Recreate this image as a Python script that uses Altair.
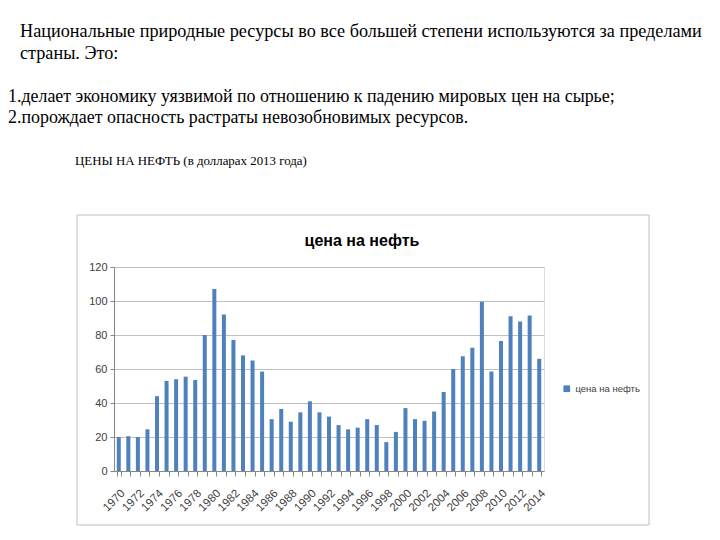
import altair as alt
import pandas as pd

years = list(range(1970, 2015))
prices = [20, 20.5, 20, 24.5, 44, 53, 54, 55.5, 53.5, 80,
          107, 92, 77, 68, 65, 58.5, 30.5, 36.5, 29, 34.5,
          41, 34.5, 32, 27, 24.5, 25.5, 30.5, 27, 17, 23,
          37, 30.5, 29.5, 35, 46.5, 60, 67.5, 72.5, 99.5, 58.5,
          76.5, 91, 88, 91.5, 66]
series_name = "цена на нефть"
y_ticks = [0, 20, 40, 60, 80, 100, 120]

intro_lines = [
    "Национальные природные ресурсы во все большей степени используются за пределами",
    "страны. Это:",
]
list_lines = [
    "1.делает экономику уязвимой по отношению к падению мировых цен на сырье;",
    "2.порождает опасность растраты невозобновимых ресурсов.",
]
subtitle = "ЦЕНЫ НА НЕФТЬ (в долларах 2013 года)"
chart_title = "цена на нефть"

df = pd.DataFrame({"year": years, "price": prices, "series": [series_name] * len(years)})
one = pd.DataFrame({"k": [0]})

W, H = 430, 204
X0, Y0 = 114, 267  # plot origin on page

bars = alt.Chart(df).mark_bar(color="#4F81BD").encode(
    x=alt.X("year:O", title=None,
            scale=alt.Scale(paddingInner=0.58, paddingOuter=0.29),
            axis=alt.Axis(labelAngle=-45, labelExpr="datum.value % 2 == 0 ? datum.label : ''",
                          tickBand="extent", domainColor="#868686", tickColor="#868686",
                          tickSize=5, labelFont="Liberation Sans", labelFontSize=11.5,
                          labelColor="#404040", labelPadding=11, grid=False)),
    y=alt.Y("price:Q", title=None,
            scale=alt.Scale(domain=[0, 120], nice=False),
            axis=alt.Axis(values=y_ticks, domainColor="#868686", tickColor="#868686",
                          tickSize=4, labelFont="Liberation Sans", labelFontSize=11,
                          labelColor="#404040", gridColor="#c0c0c0", labelPadding=3)),
    color=alt.Color("series:N", scale=alt.Scale(range=["#4F81BD"]),
                    legend=alt.Legend(title=None, orient="none", legendX=448, legendY=117,
                                      symbolType="square", symbolSize=45,
                                      symbolStrokeWidth=0,
                                      labelFont="Liberation Sans", labelFontSize=9.5,
                                      labelColor="#404040")),
)

def txt(text, px, py, size, font="Liberation Serif", weight="normal", align="left"):
    return alt.Chart(one).mark_text(
        text=text, font=font, fontSize=size, fontWeight=weight, align=align,
        baseline="alphabetic", color="black"
    ).encode(x=alt.value(px - X0), y=alt.value(py - Y0))

frame = alt.Chart(one).mark_rect(fill=None, stroke="#bfbfbf", strokeWidth=1).encode(
    x=alt.value(77 - X0), x2=alt.value(649 - X0), y=alt.value(215 - Y0), y2=alt.value(525 - Y0)
)

layers = [
    frame,
    txt(intro_lines[0], 20, 37, 18.2),
    txt(intro_lines[1], 20, 59, 18.2),
    txt(list_lines[0], 8, 102, 17.9),
    txt(list_lines[1], 8, 123, 17.9),
    txt(subtitle, 75, 165, 12.9),
    txt(chart_title, 362, 246, 16, font="Liberation Sans", weight="bold", align="center"),
    bars,
]

chart = alt.layer(*layers).properties(
    width=W, height=H,
    autosize=alt.AutoSizeParams(type="none"),
    padding={"left": X0 - 8, "top": Y0 - 8, "right": 704 - (X0 - 8) - W, "bottom": 524 - (Y0 - 8) - H},
).configure_view(stroke=None).configure(background="white")

chart.save("out.html", embed_options={"renderer": "svg", "actions": False})
